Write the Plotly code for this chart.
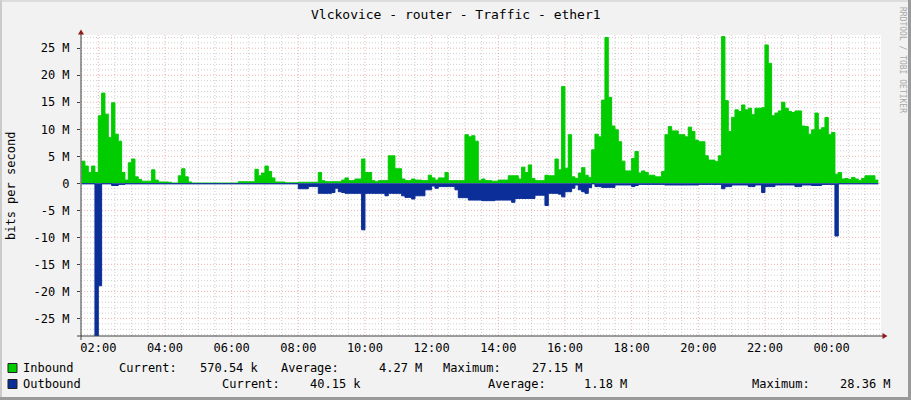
import pandas as pd
import plotly.graph_objects as go

# ---------------- data ----------------
title_text = "Vlckovice - router - Traffic - ether1"
y_axis_title = "bits per second"
watermark = "RRDTOOL / TOBI OETIKER"

start_time = "2024-01-01 01:30"
step = "6min"

# Inbound traffic in Mbit/s, one value per 6 minutes from 01:30 (each row = 1 hour)
inbound_mbps = [
    4.1, 3.2, 2.0, 3.2, 2.0, 12.5, 16.7, 12.8, 8.5, 14.9,
    9.1, 7.8, 2.0, 0.6, 3.8, 4.5, 1.2, 0.7, 0.4, 0.4,
    0.4, 2.5, 0.6, 0.25, 0.25, 0.25, 0.2, 0.05, 0.05, 1.4,
    2.7, 1.2, 0.25, 0.05, 0.05, 0.05, 0.05, 0.05, 0.05, 0.05,
    0.05, 0.05, 0.05, 0.05, 0.05, 0.05, 0.05, 0.3, 0.3, 0.3,
    0.3, 0.3, 2.6, 1.4, 1.9, 3.2, 2.2, 1.0, 0.25, 0.25,
    0.25, 0.1, 0.1, 0.1, 0.1, 0.2, 0.2, 0.2, 0.2, 0.2,
    0.2, 2.0, 0.5, 0.3, 0.3, 0.3, 0.3, 0.3, 0.6, 1.0,
    0.5, 0.5, 0.8, 0.8, 4.5, 2.0, 2.0, 0.5, 0.3, 0.5,
    0.5, 0.5, 5.1, 5.1, 2.7, 2.7, 0.8, 0.5, 0.5, 0.8,
    0.6, 0.6, 0.5, 0.5, 1.5, 1.0, 0.6, 1.0, 1.0, 2.0,
    0.5, 0.5, 0.5, 0.5, 0.5, 9.0, 8.6, 8.8, 7.8, 0.5,
    0.8, 0.5, 0.5, 0.4, 0.4, 0.6, 0.6, 0.6, 1.4, 1.4,
    1.4, 0.8, 3.0, 2.0, 3.4, 0.9, 0.5, 0.5, 0.5, 1.5,
    1.4, 1.4, 4.5, 2.5, 17.9, 2.8, 9.0, 1.2, 0.9, 1.9,
    2.9, 1.5, 1.1, 6.2, 9.1, 8.6, 15.4, 27.0, 15.9, 10.6,
    9.9, 7.7, 4.1, 2.3, 2.3, 4.6, 5.9, 1.9, 2.3, 2.0,
    1.5, 1.5, 1.2, 1.2, 2.2, 9.0, 10.5, 9.7, 9.7, 9.0,
    9.0, 8.6, 10.4, 9.6, 8.0, 7.7, 7.7, 5.1, 4.3, 4.3,
    4.0, 5.1, 27.15, 15.3, 9.6, 12.2, 13.6, 13.3, 14.5, 13.6,
    13.9, 12.7, 13.9, 13.9, 14.0, 25.6, 22.2, 12.5, 13.0, 13.4,
    15.0, 13.9, 13.3, 13.1, 13.4, 13.4, 10.6, 10.5, 9.1, 9.9,
    13.0, 9.9, 10.3, 12.2, 9.0, 9.4, 1.7, 2.0, 0.8, 0.9,
    0.7, 1.1, 0.8, 0.5, 0.9, 1.4, 1.4, 1.4, 0.6, 0.6,
]

# Outbound traffic in Mbit/s (drawn below zero)
outbound_mbps = [
    -0.1, -0.1, -0.1, -0.1, -28.36, -18.96, -0.1, -0.1, -0.1, -0.4,
    -0.4, -0.2, -0.2, -0.1, -0.1, -0.1, -0.1, -0.1, -0.1, -0.1,
    -0.1, -0.1, -0.1, -0.1, -0.1, -0.1, -0.1, -0.1, -0.1, -0.1,
    -0.1, -0.1, -0.1, -0.1, -0.1, -0.1, -0.1, -0.1, -0.1, -0.1,
    -0.1, -0.1, -0.1, -0.1, -0.1, -0.1, -0.1, -0.1, -0.1, -0.1,
    -0.1, -0.1, -0.1, -0.1, -0.1, -0.1, -0.1, -0.1, -0.1, -0.1,
    -0.1, -0.1, -0.1, -0.1, -0.1, -1.0, -1.0, -1.0, -0.6, -0.6,
    -0.6, -1.85, -1.85, -1.85, -1.85, -1.7, -0.9, -1.55, -1.7, -1.85,
    -1.85, -1.85, -1.85, -1.85, -8.6, -1.85, -1.85, -1.85, -1.85, -1.85,
    -1.85, -2.3, -1.85, -1.85, -1.85, -1.85, -2.3, -2.6, -2.6, -2.9,
    -2.3, -2.3, -2.3, -1.2, -1.2, -0.5, -0.9, -0.6, -0.6, -0.6,
    -0.6, -0.6, -1.2, -2.65, -2.65, -2.65, -3.1, -3.1, -3.1, -3.1,
    -3.2, -3.2, -3.2, -3.2, -3.1, -3.1, -3.1, -3.1, -3.1, -3.5,
    -2.8, -2.8, -2.8, -2.8, -2.8, -2.8, -2.2, -2.2, -2.2, -4.1,
    -1.85, -1.85, -1.85, -2.0, -2.5, -1.55, -1.55, -0.9, -0.3, -1.2,
    -1.55, -1.85, -0.8, -0.1, -0.6, -0.6, -0.75, -0.75, -0.75, -0.75,
    -0.3, -0.3, -0.3, -0.3, -0.3, -0.6, -0.4, -0.2, -0.2, -0.2,
    -0.2, -0.2, -0.2, -0.2, -0.2, -0.3, -0.3, -0.3, -0.3, -0.3,
    -0.3, -0.3, -0.3, -0.3, -0.3, -0.2, -0.2, -0.2, -0.2, -0.2,
    -0.2, -0.2, -1.0, -0.6, -0.6, -0.3, -0.3, -0.3, -0.3, -0.3,
    -0.6, -0.6, -0.3, -0.3, -1.7, -0.6, -0.6, -0.6, -0.3, -0.3,
    -0.3, -0.3, -0.3, -0.3, -0.6, -0.6, -0.3, -0.3, -0.3, -0.4,
    -0.4, -0.4, -0.2, -0.2, -0.2, -0.2, -9.75, -0.1, -0.1, -0.1,
    -0.1, -0.1, -0.1, -0.1, -0.1, -0.1, -0.1, -0.1, -0.1, -0.1,
]

y_tick_values = [25, 20, 15, 10, 5, 0, -5, -10, -15, -20, -25]
y_tick_labels = ["25 M", "20 M", "15 M", "10 M", "5 M", "0",
                 "-5 M", "-10 M", "-15 M", "-20 M", "-25 M"]

inbound_current, inbound_average, inbound_maximum = "570.54 k", "4.27 M", "27.15 M"
outbound_current, outbound_average, outbound_maximum = "40.15 k", "1.18 M", "28.36 M"

# ---------------- styling ----------------
GREEN = "#00CC00"
BLUE = "#0B2E98"
FONT = "DejaVu Sans Mono"
W, H = 911, 400
L, R, T, B = 81, 881, 35, 336


def px(x):
    return (x - L) / (R - L)


def py(y):
    return (B - y) / (B - T)


times = pd.date_range(start=start_time, periods=len(inbound_mbps), freq=step)
x_start = pd.Timestamp("2024-01-01 01:28:53")
x_end = x_start + pd.Timedelta(hours=24)
y_range = [-28.25, 27.45]

fig = go.Figure()
fig.add_trace(go.Scatter(x=times, y=inbound_mbps, mode="lines", line_shape="hv",
                         line=dict(color=GREEN, width=1), fill="tozeroy",
                         fillcolor=GREEN, name="Inbound", hoverinfo="skip"))
fig.add_trace(go.Scatter(x=times, y=outbound_mbps, mode="lines", line_shape="hv",
                         line=dict(color=BLUE, width=1), fill="tozeroy",
                         fillcolor=BLUE, name="Outbound", hoverinfo="skip"))

shapes = []
# grid (below the areas)
minor_col = "rgba(140,140,140,0.42)"
major_col = "rgba(222,80,80,0.45)"
t = pd.Timestamp("2024-01-01 01:30")
while t < x_end:
    major = (t.minute == 0 and t.hour % 2 == 0)
    shapes.append(dict(type="line", xref="x", yref="paper", x0=t, x1=t, y0=0, y1=1,
                       line=dict(color=major_col if major else minor_col, width=1, dash="1px,2px"),
                       layer="below"))
    t += pd.Timedelta(minutes=30)
for v in range(-28, 28):
    major = (v % 5 == 0)
    shapes.append(dict(type="line", xref="paper", yref="y", x0=0, x1=1, y0=v, y1=v,
                       line=dict(color=major_col if major else minor_col, width=1, dash="1px,2px"),
                       layer="below"))

AXIS = "#404040"
ARROW = "#8E1B1B"
# axis lines
shapes.append(dict(type="line", xref="paper", yref="paper", x0=px(77), x1=px(883),
                   y0=py(336), y1=py(336), line=dict(color=AXIS, width=1)))
shapes.append(dict(type="line", xref="paper", yref="paper", x0=px(81), x1=px(81),
                   y0=py(340), y1=py(33), line=dict(color=AXIS, width=1)))
# arrows
shapes.append(dict(type="path", xref="paper", yref="paper",
                   path=f"M {px(78)} {py(34.5)} L {px(84)} {py(34.5)} L {px(81)} {py(29.5)} Z",
                   fillcolor=ARROW, line=dict(color=ARROW, width=0)))
shapes.append(dict(type="path", xref="paper", yref="paper",
                   path=f"M {px(882.5)} {py(333)} L {px(882.5)} {py(339)} L {px(887.5)} {py(336)} Z",
                   fillcolor=ARROW, line=dict(color=ARROW, width=0)))
# frame shading
shapes.append(dict(type="rect", xref="paper", yref="paper", x0=px(0), x1=px(W), y0=py(0), y1=py(2),
                   fillcolor="#DCDCDC", line=dict(width=0)))
shapes.append(dict(type="rect", xref="paper", yref="paper", x0=px(0), x1=px(2), y0=py(0), y1=py(H),
                   fillcolor="#CBCBCB", line=dict(width=0)))
shapes.append(dict(type="rect", xref="paper", yref="paper", x0=px(W - 3), x1=px(W), y0=py(0), y1=py(H),
                   fillcolor="#9A9A9A", line=dict(width=0)))
shapes.append(dict(type="rect", xref="paper", yref="paper", x0=px(0), x1=px(W), y0=py(H - 3), y1=py(H),
                   fillcolor="#9A9A9A", line=dict(width=0)))
# legend swatches
for ycen, col in [(368, GREEN), (384, BLUE)]:
    shapes.append(dict(type="rect", xref="paper", yref="paper", x0=px(8), x1=px(17),
                       y0=py(ycen + 4.5), y1=py(ycen - 4.5), fillcolor=col,
                       line=dict(color="#202020", width=1)))

annotations = []


def text(x, y, s, anchor="left", size=12, color="#000000", angle=0):
    annotations.append(dict(xref="paper", yref="paper", x=px(x), y=py(y), text=s,
                            showarrow=False, xanchor=anchor, yanchor="middle",
                            textangle=angle, font=dict(family=FONT, size=size, color=color)))


text(456, 14, title_text, anchor="center", size=13)
text(11, 186, y_axis_title, anchor="center", size=12, angle=-90)
annotations.append(dict(xref="paper", yref="paper", x=px(903), y=py(60), text=watermark,
                        showarrow=False, xanchor="center", yanchor="middle", textangle=90,
                        font=dict(family=FONT, size=8, color="#A8A8A8")))

# legend row 1
text(21, 368, "Inbound")
text(117, 368, "Current:")
text(261, 368, inbound_current, anchor="right")
text(279, 368, "Average:")
text(424, 368, inbound_average, anchor="right")
text(441, 368, "Maximum:")
text(585, 368, inbound_maximum, anchor="right")
# legend row 2
text(21, 384, "Outbound")
text(220, 384, "Current:")
text(363, 384, outbound_current, anchor="right")
text(486, 384, "Average:")
text(629, 384, outbound_average, anchor="right")
text(750, 384, "Maximum:")
text(893, 384, outbound_maximum, anchor="right")

fig.update_layout(
    width=W, height=H,
    margin=dict(l=L, r=W - R, t=T, b=H - B, pad=0),
    paper_bgcolor="#F2F2F2", plot_bgcolor="#FFFFFF",
    showlegend=False,
    font=dict(family=FONT, size=12, color="#000000"),
    shapes=shapes, annotations=annotations,
    xaxis=dict(type="date", range=[x_start, x_end], tickformat="%H:%M",
               tick0="2024-01-01 02:00", dtick=7200000, showgrid=False, zeroline=False,
               showline=False, ticks="", ticklabelstandoff=3,
               tickfont=dict(family=FONT, size=12, color="#000000")),
    yaxis=dict(range=y_range, tickvals=y_tick_values, ticktext=y_tick_labels,
               showgrid=False, zeroline=False, showline=False, ticks="outside",
               ticklen=3, tickcolor=AXIS, ticklabelstandoff=5,
               tickfont=dict(family=FONT, size=12, color="#000000")),
)

fig.write_html("out.html", config={"displayModeBar": False})

# remove the browser's default page margin so the figure sits at (0, 0)
with open("out.html", "r", encoding="utf-8") as fh:
    html = fh.read()
html = html.replace("<head>", "<head><style>html,body{margin:0;padding:0;overflow:hidden;}</style>", 1)
with open("out.html", "w", encoding="utf-8") as fh:
    fh.write(html)
